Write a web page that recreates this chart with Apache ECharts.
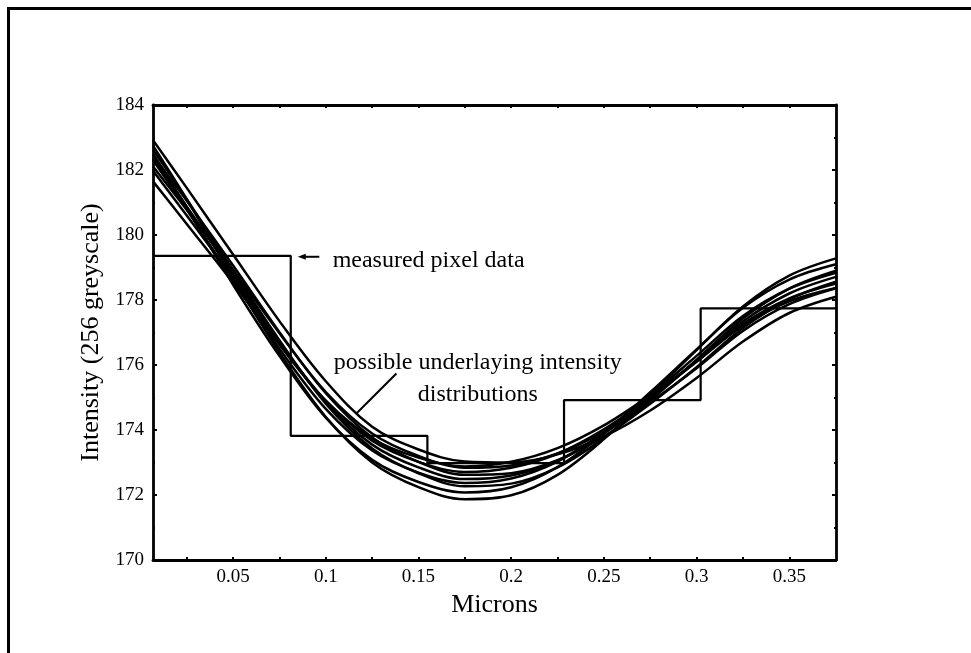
<!DOCTYPE html>
<html>
<head>
<meta charset="utf-8">
<script src="https://cdn.jsdelivr.net/npm/echarts@6/dist/echarts.min.js"></script>
<style>
  html, body { margin: 0; padding: 0; background: #ffffff; }
  #chart { width: 971px; height: 653px; }
</style>
</head>
<body>
<div id="chart"></div>
<script>
// Sample positions along the profile (microns)
const xPositions = [0.0068, 0.025, 0.05, 0.075, 0.1, 0.125, 0.15, 0.175, 0.2, 0.225, 0.25, 0.275, 0.3, 0.325, 0.35, 0.3752];

// Candidate underlying intensity distributions (greyscale levels)
const curveA = [182.75, 181.10, 178.68, 176.39, 174.40, 173.00, 172.24, 171.87, 171.99, 172.62, 173.72, 175.07, 176.46, 177.80, 178.75, 179.28];
const curveB = [182.50, 180.84, 178.47, 176.28, 174.38, 173.08, 172.40, 172.08, 172.24, 172.86, 173.89, 175.16, 176.48, 177.76, 178.63, 179.10];
const curveC = [182.62, 181.10, 178.91, 176.76, 174.81, 173.43, 172.67, 172.27, 172.35, 172.85, 173.75, 174.91, 176.16, 177.43, 178.35, 178.90];
const curveD = [182.31, 180.78, 178.61, 176.50, 174.65, 173.37, 172.69, 172.37, 172.51, 173.03, 173.93, 175.07, 176.28, 177.51, 178.35, 178.84];
const curveE = [182.36, 180.88, 178.79, 176.72, 174.86, 173.55, 172.85, 172.49, 172.60, 173.06, 173.89, 174.96, 176.13, 177.34, 178.20, 178.71];
const curveF = [182.45, 181.05, 179.06, 177.01, 175.13, 173.77, 173.02, 172.62, 172.67, 173.07, 173.80, 174.81, 175.93, 177.14, 178.02, 178.56];
const curveG = [181.98, 180.60, 178.67, 176.68, 174.90, 173.67, 173.02, 172.71, 172.84, 173.27, 174.02, 175.01, 176.10, 177.26, 178.05, 178.51];
const curveH = [182.11, 180.78, 178.93, 176.98, 175.17, 173.89, 173.20, 172.84, 172.91, 173.28, 173.94, 174.86, 175.90, 177.05, 177.87, 178.36];
const curveI = [181.65, 180.34, 178.53, 176.62, 174.90, 173.74, 173.15, 172.88, 173.02, 173.44, 174.14, 175.07, 176.11, 177.21, 177.96, 178.37];
const curveJ = [182.92, 181.45, 179.40, 177.35, 175.50, 174.10, 173.40, 173.03, 173.00, 173.25, 173.80, 174.60, 175.60, 176.72, 177.60, 178.10];
const curves = [curveA, curveB, curveC, curveD, curveE, curveF, curveG, curveH, curveI, curveJ];

// Measured pixel data: pixel boundaries (microns) and pixel intensities
const pixelEdges = [0.0068, 0.0811, 0.1548, 0.2285, 0.3022, 0.3752];
const pixelValues = [179.36, 173.82, 172.98, 174.92, 177.74, 177.74];

// Axis ticks and labels
const xMin = 0.0068, xMax = 0.3752;
const xLabelValues = [0.05, 0.1, 0.15, 0.2, 0.25, 0.3, 0.35];
const xTickValues = [0.025, 0.05, 0.075, 0.1, 0.125, 0.15, 0.175, 0.2, 0.225, 0.25, 0.275, 0.3, 0.325, 0.35];
const yMin = 170, yMax = 184, yStep = 2;

const FONT = 'Liberation Serif';
const chart = echarts.init(document.getElementById('chart'), null, { renderer: 'canvas' });

const axisLineStyle = { show: true, lineStyle: { color: '#000', width: 2.8 } };
const tickStyle = { color: '#000', width: 2 };

const series = curves.map((c, i) => ({
  name: 'dist' + i,
  type: 'line',
  data: xPositions.map((x, j) => [x, c[j]]),
  smooth: 0.35,
  symbol: 'none',
  lineStyle: { color: '#000', width: 2.5 },
  clip: true,
  z: 3
}));

series.push({
  name: 'pixels',
  type: 'line',
  data: pixelEdges.map((x, j) => [x, pixelValues[j]]),
  step: 'end',
  symbol: 'none',
  lineStyle: { color: '#000', width: 2.2 },
  clip: true,
  z: 2
});

chart.setOption({
  animation: false,
  backgroundColor: '#ffffff',
  grid: { left: 153, top: 105, right: 135, bottom: 93, containLabel: false },
  xAxis: [
    {
      type: 'value', min: xMin, max: xMax, position: 'bottom',
      axisLine: axisLineStyle,
      axisTick: { show: true, inside: true, length: 3, customValues: xTickValues, lineStyle: tickStyle },
      axisLabel: {
        show: true, customValues: xLabelValues, margin: 8,
        fontFamily: FONT, fontSize: 19, color: '#000',
        formatter: v => String(parseFloat(v.toFixed(4)))
      },
      splitLine: { show: false },
      name: 'Microns', nameLocation: 'middle', nameGap: 28,
      nameTextStyle: { fontFamily: FONT, fontSize: 26, color: '#000' }
    },
    {
      type: 'value', min: xMin, max: xMax, position: 'top',
      axisLine: axisLineStyle,
      axisTick: { show: true, inside: true, length: 3, customValues: xTickValues, lineStyle: tickStyle },
      axisLabel: { show: false },
      splitLine: { show: false }
    }
  ],
  yAxis: [
    {
      type: 'value', min: yMin, max: yMax, interval: yStep, position: 'left',
      axisLine: axisLineStyle,
      axisTick: { show: true, inside: true, length: 4, lineStyle: tickStyle },
      minorTick: { show: true, splitNumber: 2, length: 2, lineStyle: tickStyle },
      axisLabel: { show: true, margin: 9, fontFamily: FONT, fontSize: 19, color: '#000' },
      splitLine: { show: false },
      name: 'Intensity (256 greyscale)', nameLocation: 'middle', nameGap: 40,
      nameTextStyle: { fontFamily: FONT, fontSize: 26, color: '#000' }
    },
    {
      type: 'value', min: yMin, max: yMax, interval: yStep, position: 'right',
      axisLine: axisLineStyle,
      axisTick: { show: true, inside: true, length: 4, lineStyle: tickStyle },
      minorTick: { show: true, splitNumber: 2, length: 2, lineStyle: tickStyle },
      axisLabel: { show: false },
      splitLine: { show: false }
    }
  ],
  series: series
});

// Annotations anchored in data coordinates
const px = (x, y) => chart.convertToPixel({ xAxisIndex: 0, yAxisIndex: 0 }, [x, y]);
const arrowTip = px(0.0849, 179.33);
const arrowTail = px(0.0965, 179.33);
const measuredLabel = px(0.1037, 179.20);
const possibleLine1 = px(0.182, 176.06);
const possibleLine2 = px(0.182, 175.08);
const pointerStart = px(0.1381, 175.74);
const pointerEnd = px(0.1165, 174.51);

const textStyle = { fontFamily: FONT, fontSize: 24, fill: '#000' };

chart.setOption({
  graphic: [
    // page frame
    { type: 'polyline', shape: { points: [[8.5, 653], [8.5, 8.5], [971, 8.5]] },
      style: { stroke: '#000', lineWidth: 3, fill: null }, z: 10 },
    // arrow toward the pixel data
    { type: 'line', shape: { x1: arrowTip[0] + 5, y1: arrowTip[1], x2: arrowTail[0], y2: arrowTail[1] },
      style: { stroke: '#000', lineWidth: 2 }, z: 10 },
    { type: 'polygon', shape: { points: [[arrowTip[0], arrowTip[1]], [arrowTip[0] + 8, arrowTip[1] - 3], [arrowTip[0] + 8, arrowTip[1] + 3]] },
      style: { fill: '#000' }, z: 10 },
    { type: 'text', x: measuredLabel[0], y: measuredLabel[1],
      style: Object.assign({ text: 'measured pixel data', align: 'left', verticalAlign: 'middle' }, textStyle), z: 10 },
    // pointer toward the candidate distributions
    { type: 'line', shape: { x1: pointerStart[0], y1: pointerStart[1], x2: pointerEnd[0], y2: pointerEnd[1] },
      style: { stroke: '#000', lineWidth: 2 }, z: 10 },
    { type: 'text', x: possibleLine1[0], y: possibleLine1[1],
      style: Object.assign({ text: 'possible underlaying intensity', align: 'center', verticalAlign: 'middle' }, textStyle), z: 10 },
    { type: 'text', x: possibleLine2[0], y: possibleLine2[1],
      style: Object.assign({ text: 'distributions', align: 'center', verticalAlign: 'middle' }, textStyle), z: 10 }
  ]
});
</script>
</body>
</html>
